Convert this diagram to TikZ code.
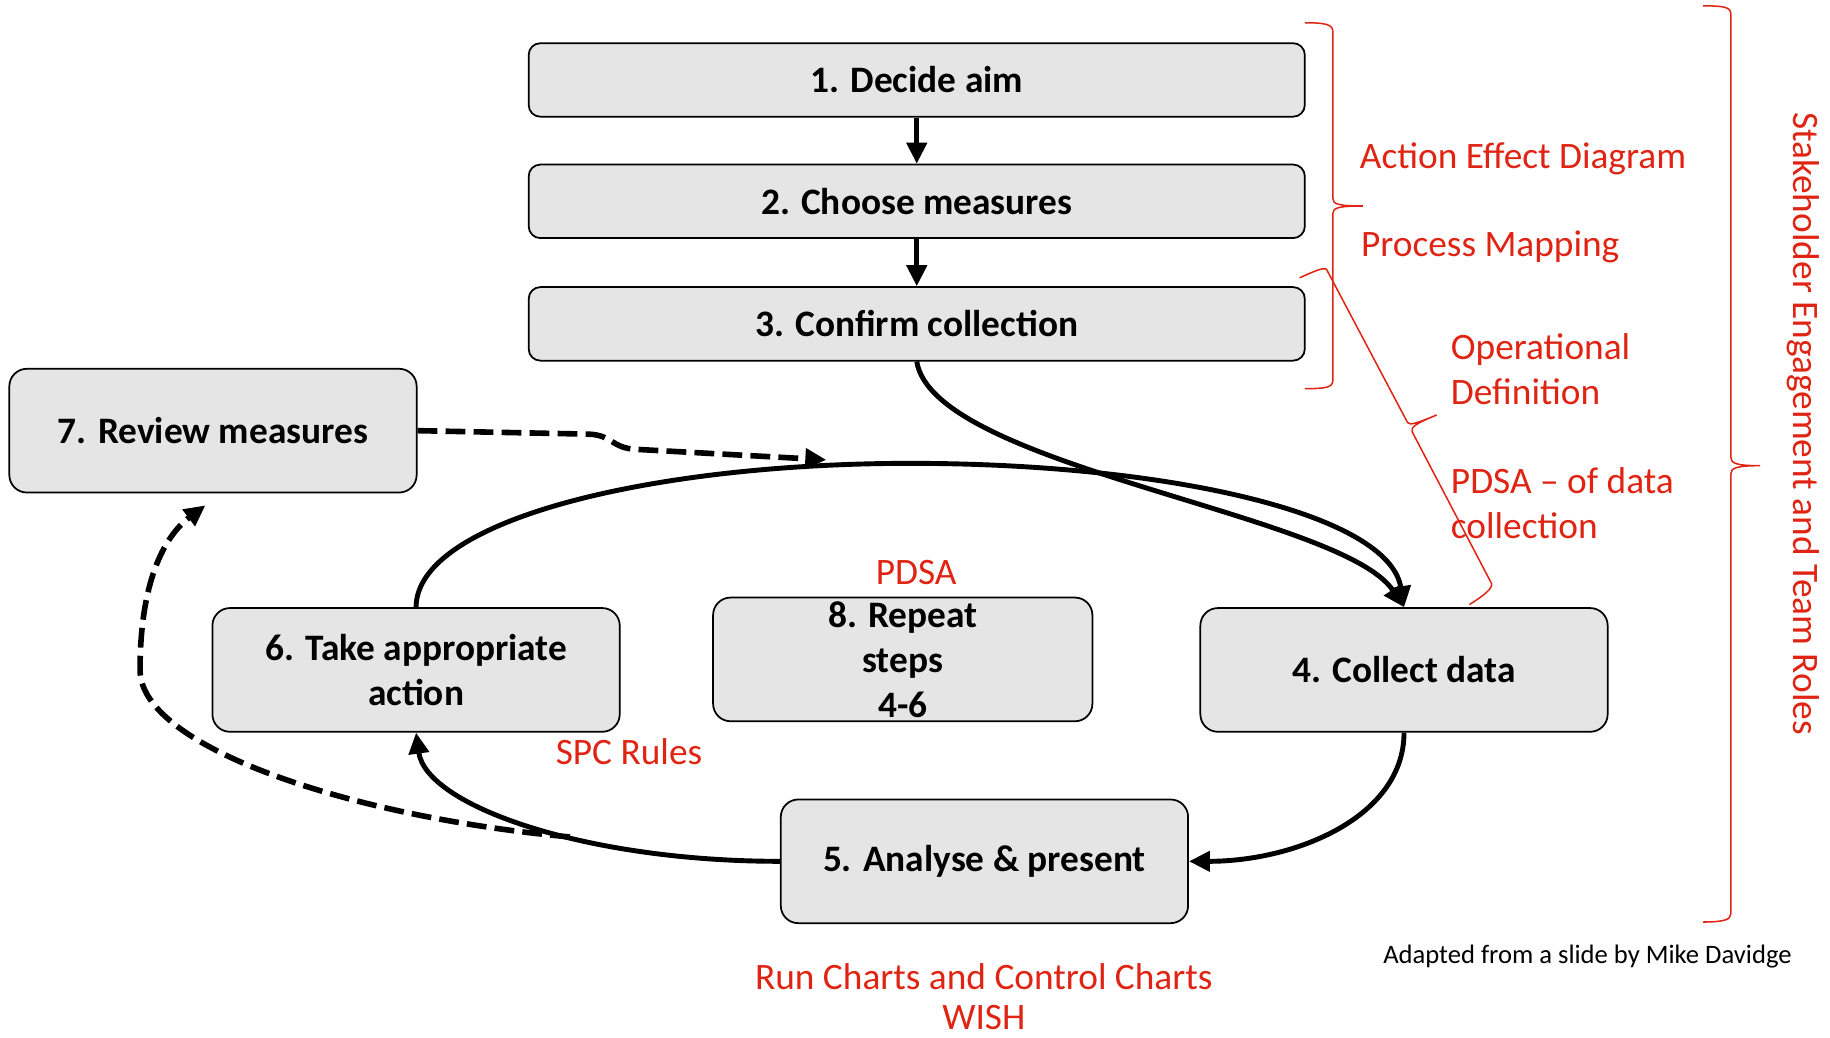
\documentclass[tikz,border=0pt]{standalone}
\usepackage{fontspec}
\setmainfont{Carlito}
\usetikzlibrary{arrows.meta}
\definecolor{redtxt}{RGB}{224,36,20}
\definecolor{boxfill}{RGB}{229,229,229}
\begin{document}
\begin{tikzpicture}[x=1pt,y=-1pt,
  stepbox/.style={draw=black, line width=1.5pt, fill=boxfill, rounded corners=12pt,
    inner sep=0pt, align=center, font=\fontsize{32}{38.5}\selectfont\bfseries},
  widebox/.style={stepbox, minimum width=665pt, minimum height=63pt, rounded corners=10pt},
  loopbox/.style={stepbox, minimum width=349pt, minimum height=106pt, rounded corners=15pt},
  flow/.style={line width=4.2pt, -{Triangle[length=18pt,width=17pt]}},
  dashflow/.style={flow, line width=4.8pt, dash pattern=on 17pt off 7pt},
  redlabel/.style={text=redtxt, inner sep=0pt, font=\fontsize{32}{38.5}\selectfont},
  brace/.style={draw=redtxt, line width=1.3pt}]
\useasboundingbox (0,0) rectangle (1568,889);

% boxes
\node[widebox] (b1) at (785.5,68.5) {1. Decide aim};
\node[widebox] (b2) at (785.5,172.5) {2. Choose measures};
\node[widebox] (b3) at (785.5,277.5) {3. Confirm collection};
\node[loopbox] (rev) at (182.5,369) {7. Review measures};
\node[loopbox] (b6) at (356.5,574) {6. Take appropriate\\action};
\node[loopbox, minimum width=325pt] (b8) at (773.5,565) {8. Repeat\\steps\\4-6};
\node[loopbox] (b4) at (1203,574) {4. Collect data};
\node[loopbox] (b5) at (843.5,738) {5. Analyse \& present};

% solid connectors
\draw[flow] (b1) -- (b2);
\draw[flow] (b2) -- (b3);
\draw[flow] (b3.south) .. controls (800,400) and (1150,440) .. (b4.north);
\draw[flow] (b6.north) .. controls (357,445) and (560,397) .. (780,397)
  .. controls (1000,397) and (1190,440) .. (b4.north);
\draw[flow] (b4.south) .. controls (1203,700) and (1110,738) .. (b5.east);
\draw[flow] (b5.west) .. controls (500,738) and (365,690) .. (b6.south)
  coordinate[pos=0.4] (dashstart);

% dashed connectors
\coordinate (dashend) at (708,394);
\coordinate (revin) at (176,433);
\draw[dashflow] (rev.east) -- (505,372) .. controls (525,373) and (524,384) .. (545,385) -- (dashend);
\draw[dashflow] (dashstart) .. controls (300,700) and (120,640) .. (120,574)
  .. controls (120,500) and (140,460) .. (revin);

% red braces
\draw[brace] (1118,19.5) .. controls (1136,19.5) and (1142,21) .. (1142,27) -- (1142,170)
  .. controls (1142,175) and (1147,176.5) .. (1168,176.5)
  .. controls (1147,176.5) and (1142,178) .. (1142,183) -- (1142,326)
  .. controls (1142,332) and (1136,333) .. (1118,333);
\draw[brace] (1113.5,238) .. controls (1125,233) and (1133,229) .. (1136.5,230.6) -- (1206,362)
  .. controls (1208,365) and (1215,362) .. (1231,355.6)
  .. controls (1215,362) and (1208,366) .. (1210,370) -- (1278,500)
  .. controls (1279,504) and (1272,510) .. (1259,518);
\draw[brace] (1459,5) .. controls (1477,5) and (1483,6) .. (1483,12) -- (1483,392)
  .. controls (1483,397) and (1488,399) .. (1508,399)
  .. controls (1488,399) and (1483,401) .. (1483,406) -- (1483,783)
  .. controls (1483,788) and (1477,790) .. (1459,790);

% red labels
\node[redlabel, anchor=base west] (aed) at (1165,144) {Action Effect Diagram};
\node[redlabel, anchor=base west] (pm) at (1166,220) {Process Mapping};
\node[redlabel, anchor=base west, align=left] (od) at (1243,346.9) {Operational\\Definition};
\node[redlabel, anchor=base west, align=left] (pdc) at (1243,461) {PDSA – of data\\collection};
\node[redlabel, anchor=base] (pdsa) at (785,501) {PDSA};
\node[redlabel, anchor=base west] (spc) at (476,655) {SPC Rules};
\node[redlabel, anchor=base, align=center, font=\fontsize{32}{34}\selectfont] (run) at (843,882) {Run Charts and Control Charts\\WISH};
\node[redlabel, rotate=-90] (stake) at (1545,363) {Stakeholder Engagement and Team Roles};

% credit
\node[inner sep=0pt, anchor=base west, font=\fontsize{22.8}{26}\selectfont] (credit) at (1185,825.6) {Adapted from a slide by Mike Davidge};
\end{tikzpicture}
\end{document}
